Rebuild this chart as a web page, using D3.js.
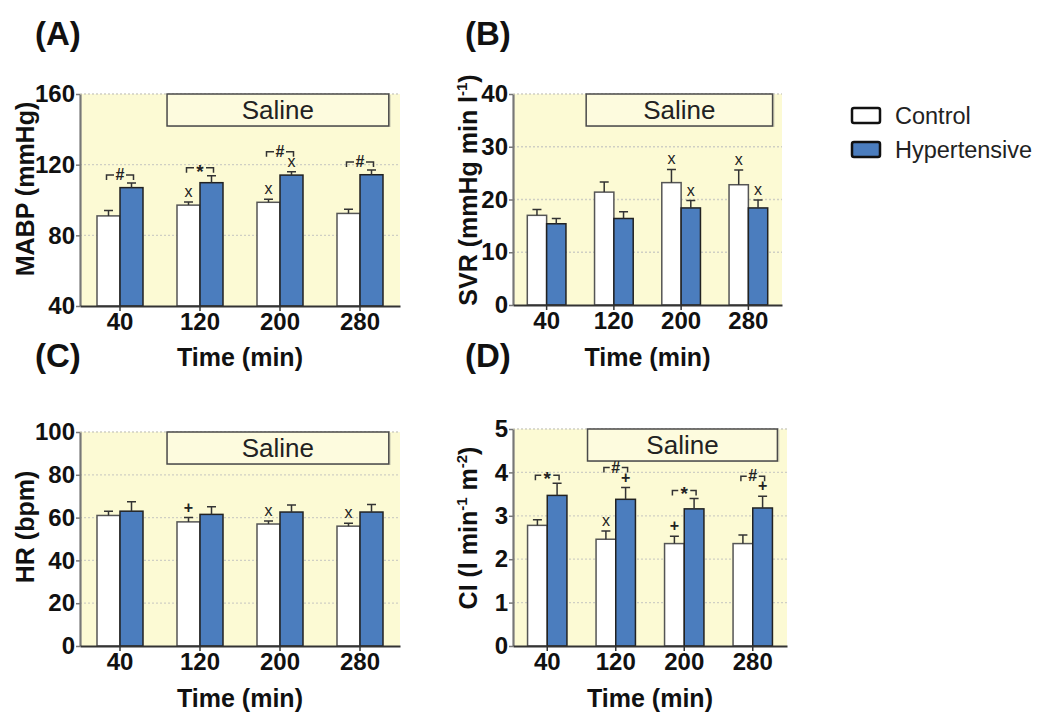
<!DOCTYPE html>
<html><head><meta charset="utf-8">
<script src="https://cdn.jsdelivr.net/npm/d3@7"></script>
<style>body{margin:0;background:#fff;} text{font-family:Arial,"Liberation Sans",sans-serif;}</style>
</head><body><svg id="c" width="1040" height="715"></svg>
<script>
// ---------- data ----------
const times = ["40", "120", "200", "280"];
const groups = ["Control", "Hypertensive"];

const mabpControl = [91, 97.1, 98.7, 92.4];
const mabpControlSem = [3, 1.7, 1.7, 2.3];
const mabpHyper = [107, 109.8, 114.1, 114.3];
const mabpHyperSem = [2.6, 3.9, 1.9, 2.7];
const mabpTicks = [40, 80, 120, 160];
const mabpCtrlMarks = ["", "x", "x", ""];
const mabpHypMarks = ["", "", "x", ""];
const mabpBrackets = ["#", "*", "#", "#"];

const svrControl = [17, 21.4, 23.2, 22.8];
const svrControlSem = [1.1, 1.9, 2.5, 2.8];
const svrHyper = [15.4, 16.4, 18.4, 18.4];
const svrHyperSem = [1.0, 1.3, 1.4, 1.5];
const svrTicks = [0, 10, 20, 30, 40];
const svrCtrlMarks = ["", "", "x", "x"];
const svrHypMarks = ["", "", "x", "x"];
const svrBrackets = ["", "", "", ""];

const hrControl = [61, 58, 57, 56];
const hrControlSem = [2, 2, 1.4, 1.4];
const hrHyper = [63, 61.5, 62.6, 62.6];
const hrHyperSem = [4.4, 3.6, 3.3, 3.5];
const hrTicks = [0, 20, 40, 60, 80, 100];
const hrCtrlMarks = ["", "+", "x", "x"];
const hrHypMarks = ["", "", "", ""];
const hrBrackets = ["", "", "", ""];

const ciControl = [2.78, 2.46, 2.36, 2.36];
const ciControlSem = [0.13, 0.19, 0.17, 0.2];
const ciHyper = [3.47, 3.38, 3.16, 3.18];
const ciHyperSem = [0.28, 0.27, 0.24, 0.27];
const ciTicks = [0, 1, 2, 3, 4, 5];
const ciCtrlMarks = ["", "x", "+", ""];
const ciHypMarks = ["", "+", "", "+"];
const ciBrackets = ["*", "#", "*", "#"];

// ---------- layout ----------
const BG = "#fcfad4", BLUE = "#4b7dbe";
const FONT = "Arial, 'Liberation Sans', sans-serif";
const svg = d3.select("#c");

const panels = [
  {letter:"(A)", lx:35, ly:45, x0:80, x1:400, y0:94, y1:306, ticks:mabpTicks,
   ctrl:mabpControl, ctrlSem:mabpControlSem, hyp:mabpHyper, hypSem:mabpHyperSem,
   cm:mabpCtrlMarks, hm:mabpHypMarks, br:mabpBrackets,
   ylab:[["MABP (mmHg)",""]], ylx:34, yly:189, xty:357},
  {letter:"(B)", lx:465, ly:45, x0:513, x1:782, y0:94, y1:305, ticks:svrTicks,
   ctrl:svrControl, ctrlSem:svrControlSem, hyp:svrHyper, hypSem:svrHyperSem,
   cm:svrCtrlMarks, hm:svrHypMarks, br:svrBrackets,
   ylab:[["SVR (mmHg min l",""],["-1","sup"],[")",""]], ylx:477, yly:190, xty:357},
  {letter:"(C)", lx:35, ly:367, x0:80, x1:400, y0:432, y1:646, ticks:hrTicks,
   ctrl:hrControl, ctrlSem:hrControlSem, hyp:hrHyper, hypSem:hrHyperSem,
   cm:hrCtrlMarks, hm:hrHypMarks, br:hrBrackets,
   ylab:[["HR (bpm)",""]], ylx:34, yly:527, xty:698},
  {letter:"(D)", lx:465, ly:367, x0:513, x1:787, y0:429, y1:646, ticks:ciTicks,
   ctrl:ciControl, ctrlSem:ciControlSem, hyp:ciHyper, hypSem:ciHyperSem,
   cm:ciCtrlMarks, hm:ciHypMarks, br:ciBrackets,
   ylab:[["CI (l min",""],["-1","sup"],[" m",""],["-2","sup"],[")",""]], ylx:477, yly:528, xty:698}
];

panels.forEach(p => {
  const g = svg.append("g");
  const y = d3.scaleLinear().domain(d3.extent(p.ticks)).range([p.y1, p.y0]);
  const x = d3.scaleBand().domain(times).range([p.x0, p.x1]).padding(0);
  const xs = d3.scaleBand().domain(groups).range([0, x.bandwidth()]).paddingInner(0).paddingOuter(0.739);
  const base = y.domain()[0];

  // background
  g.append("rect").attr("x", p.x0).attr("y", p.y0).attr("width", p.x1 - p.x0).attr("height", p.y1 - p.y0).attr("fill", BG);
  // grid
  g.selectAll(".grid").data(p.ticks.slice(1)).join("line")
    .attr("x1", p.x0).attr("x2", p.x1).attr("y1", d => y(d)).attr("y2", d => y(d))
    .attr("stroke", "#cfcfc4").attr("stroke-width", 1.3).attr("stroke-dasharray", "2,2");

  // saline box
  const w = p.x1 - p.x0;
  g.append("rect").attr("x", p.x0 + w * 0.272 + 2).attr("y", p.y0 + 1).attr("width", w * 0.693).attr("height", 32)
    .attr("fill", "#b9b9a8").attr("opacity", 0.5);
  g.append("rect").attr("x", p.x0 + w * 0.272).attr("y", p.y0).attr("width", w * 0.693).attr("height", 32)
    .attr("fill", "#fdfbde").attr("stroke", "#4a4a4a").attr("stroke-width", 1.5);
  g.append("text").attr("x", p.x0 + w * (0.272 + 0.693 / 2)).attr("y", p.y0 + 25)
    .attr("text-anchor", "middle").attr("font-size", 26).attr("fill", "#222").text("Saline");

  const series = [
    {name:"Control", vals:p.ctrl, sem:p.ctrlSem, marks:p.cm, fill:"#ffffff", stroke:"#555"},
    {name:"Hypertensive", vals:p.hyp, sem:p.hypSem, marks:p.hm, fill:BLUE, stroke:"#222"}
  ];
  series.forEach(s => {
    const cx = i => x(times[i]) + xs(s.name) + xs.bandwidth() / 2;
    g.selectAll(null).data(s.vals).join("rect")
      .attr("x", (d, i) => x(times[i]) + xs(s.name)).attr("width", xs.bandwidth())
      .attr("y", d => y(d)).attr("height", d => y(base) - y(d))
      .attr("fill", s.fill).attr("stroke", s.stroke).attr("stroke-width", 1.5);
    // error bars
    g.selectAll(null).data(s.vals).join("path")
      .attr("d", (d, i) => {
        const t = y(d + s.sem[i]), c = cx(i);
        return `M${c},${y(d)}V${t}M${c - 4.5},${t}H${c + 4.5}`;
      })
      .attr("stroke", "#333").attr("stroke-width", 1.5).attr("fill", "none");
    // marks
    g.selectAll(null).data(s.vals).join("text")
      .attr("x", (d, i) => cx(i)).attr("y", (d, i) => y(d + s.sem[i]) - 5)
      .attr("text-anchor", "middle").attr("font-size", 16).attr("font-weight", (d, i) => s.marks[i] === "+" ? "bold" : "normal")
      .attr("fill", "#222").text((d, i) => s.marks[i]);
  });

  // brackets
  p.br.forEach((sym, i) => {
    if (!sym) return;
    const c1 = x(times[i]) + xs("Control") + xs.bandwidth() / 2;
    const c2 = x(times[i]) + xs("Hypertensive") + xs.bandwidth() / 2;
    const t1 = y(p.ctrl[i] + p.ctrlSem[i]) - (p.cm[i] ? 12 : 0);
    const t2 = y(p.hyp[i] + p.hypSem[i]) - (p.hm[i] ? 12 : 0);
    const by = Math.min(t1, t2) - 8;
    const m = (c1 + c2) / 2;
    g.append("path").attr("d", `M${c1 - 2},${by + 5}V${by}H${m - 6}M${m + 6},${by}H${c2 + 2}V${by + 5}`)
      .attr("stroke", "#333").attr("stroke-width", 1.5).attr("fill", "none");
    g.append("text").attr("x", m).attr("y", by + (sym === "*" ? 10 : 5))
      .attr("text-anchor", "middle").attr("font-size", sym === "*" ? 19 : 16).attr("font-weight", "bold")
      .attr("fill", "#222").text(sym);
  });

  // axes
  const ya = g.append("g").attr("transform", `translate(${p.x0},0)`)
    .call(d3.axisLeft(y).tickValues(p.ticks).tickFormat(d3.format("d")).tickSize(4).tickSizeOuter(0).tickPadding(1));
  ya.select(".domain").attr("stroke", "#777").attr("stroke-width", 2.2);
  ya.selectAll(".tick line").attr("stroke", "#777").attr("stroke-width", 1.5);
  ya.selectAll(".tick text").attr("font-size", 24).attr("font-weight", "bold").attr("fill", "#111")
    .attr("font-family", FONT);

  const xa = g.append("g").attr("transform", `translate(0,${p.y1})`)
    .call(d3.axisBottom(x).tickSize(5).tickSizeOuter(0).tickPadding(2));
  xa.select(".domain").attr("stroke", "#333").attr("stroke-width", 2.2);
  xa.selectAll(".tick line").attr("stroke", "#333").attr("stroke-width", 1.5);
  xa.selectAll(".tick text").attr("font-size", 24).attr("font-weight", "bold").attr("fill", "#111")
    .attr("font-family", FONT);

  // titles
  svg.append("text").attr("x", (p.x0 + p.x1) / 2).attr("y", p.xty + 9).attr("text-anchor", "middle")
    .attr("font-size", 25).attr("font-weight", "bold").attr("fill", "#111").text("Time (min)");
  const yt = svg.append("text").attr("transform", `translate(${p.ylx},${p.yly}) rotate(-90)`)
    .attr("text-anchor", "middle").attr("font-size", 25).attr("font-weight", "bold").attr("fill", "#111");
  let raised = false;
  p.ylab.forEach(([t, k]) => {
    if (k === "sup") { yt.append("tspan").attr("font-size", 15).attr("dy", -10).text(t); raised = true; }
    else { yt.append("tspan").attr("dy", raised ? 10 : 0).text(t); raised = false; }
  });
  svg.append("text").attr("x", p.lx).attr("y", p.ly).attr("font-size", 33).attr("font-weight", "bold")
    .attr("fill", "#111").text(p.letter);
});

// legend
const leg = svg.append("g");
[{name:"Control", fill:"#ffffff"}, {name:"Hypertensive", fill:BLUE}].forEach((d, i) => {
  const yy = 108 + i * 34;
  leg.append("rect").attr("x", 852).attr("y", yy).attr("width", 28).attr("height", 15).attr("rx", 2)
    .attr("fill", d.fill).attr("stroke", "#111").attr("stroke-width", 2.5);
  leg.append("text").attr("x", 895).attr("y", yy + 16).attr("font-size", 23.5).attr("fill", "#222").text(d.name);
});
</script></body></html>
